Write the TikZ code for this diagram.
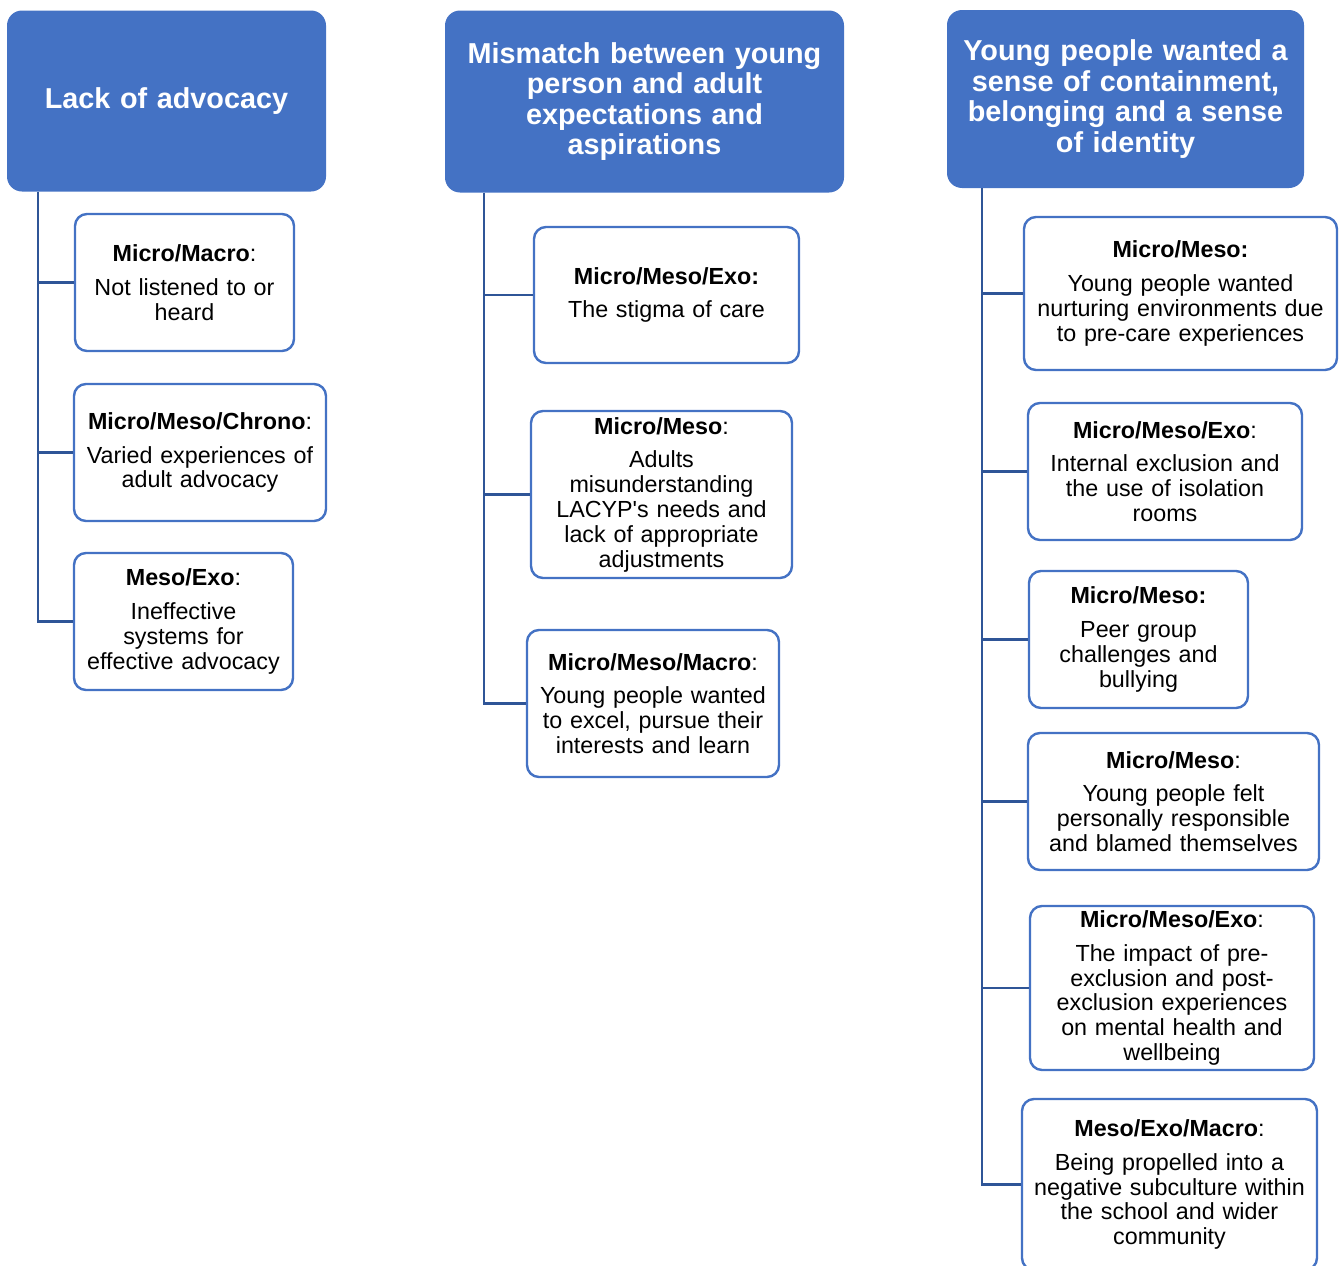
\documentclass[tikz,border=0pt]{standalone}
\usepackage{fontspec}
\setmainfont{Liberation Sans}
\definecolor{hdrblue}{HTML}{4472C4}
\definecolor{connblue}{HTML}{2F5597}
\begin{document}
\begin{tikzpicture}[x=1pt,y=-1pt,
  hdr/.style={fill=hdrblue, draw=none, rounded corners=15pt, inner sep=0pt,
    text=white, align=center, font=\fontsize{28.8}{30.5}\selectfont\bfseries},
  sub/.style={fill=white, draw=hdrblue, line width=2.4pt, rounded corners=12pt, inner sep=0pt,
    text=black, align=center, font=\fontsize{23.3}{24.8}\selectfont},
  conn/.style={draw=connblue, line width=2.5pt}]
\useasboundingbox (0,0) rectangle (1341,1266);

% headers
\node[hdr, minimum width=319pt, minimum height=181pt, text width=305pt] (h1) at (166.5,101) {Lack of advocacy};
\node[hdr, minimum width=399pt, minimum height=182pt, text width=390pt] (h2) at (644.5,101.5) {Mismatch between young\\person and adult\\expectations and\\aspirations};
\node[hdr, minimum width=357pt, minimum height=178pt, text width=350pt] (h3) at (1125.5,99) {Young people wanted a\\sense of containment,\\belonging and a sense\\of identity};

% column 1
\node[sub, minimum width=219pt, minimum height=137pt, text width=210pt] (c1a) at (184.5,282.5) {\textbf{Micro/Macro}:\\[9pt]Not listened to or\\heard};
\node[sub, minimum width=252pt, minimum height=137pt, text width=244pt] (c1b) at (200,452.5) {\textbf{Micro/Meso/Chrono}:\\[9pt]Varied experiences of\\adult advocacy};
\node[sub, minimum width=219pt, minimum height=137pt, text width=210pt] (c1c) at (183.5,621.5) {\textbf{Meso/Exo}:\\[9pt]Ineffective\\systems for\\effective advocacy};

% column 2
\node[sub, minimum width=265pt, minimum height=136pt, text width=255pt] (c2a) at (666.5,295) {\textbf{Micro/Meso/Exo:}\\[9pt]The stigma of care};
\node[sub, minimum width=261pt, minimum height=167pt, text width=252pt] (c2b) at (661.5,494.5) {\textbf{Micro/Meso}:\\[9pt]Adults\\misunderstanding\\LACYP\textquotesingle s needs and\\lack of appropriate\\adjustments};
\node[sub, minimum width=252pt, minimum height=147pt, text width=244pt] (c2c) at (653,703.5) {\textbf{Micro/Meso/Macro}:\\[9pt]Young people wanted\\to excel, pursue their\\interests and learn};

% column 3
\node[sub, minimum width=313pt, minimum height=153pt, text width=305pt] (c3a) at (1180.5,293.5) {\textbf{Micro/Meso:}\\[9pt]Young people wanted\\nurturing environments due\\to pre-care experiences};
\node[sub, minimum width=274pt, minimum height=137pt, text width=265pt] (c3b) at (1165,471.5) {\textbf{Micro/Meso/Exo}:\\[9pt]Internal exclusion and\\the use of isolation\\rooms};
\node[sub, minimum width=219pt, minimum height=137pt, text width=210pt] (c3c) at (1138.5,639.5) {\textbf{Micro/Meso:}\\[9pt]Peer group\\challenges and\\bullying};
\node[sub, minimum width=291pt, minimum height=137pt, text width=283pt] (c3d) at (1173.5,801.5) {\textbf{Micro/Meso}:\\[9pt]Young people felt\\personally responsible\\and blamed themselves};
\node[sub, minimum width=284pt, minimum height=164pt, text width=276pt] (c3e) at (1172,988) {\textbf{Micro/Meso/Exo}:\\[9pt]The impact of pre-\\exclusion and post-\\exclusion experiences\\on mental health and\\wellbeing};
\node[sub, minimum width=295pt, minimum height=171pt, text width=287pt] (c3f) at (1169.5,1184.5) {\textbf{Meso/Exo/Macro}:\\[9pt]Being propelled into a\\negative subculture within\\the school and wider\\community};

% connectors
\coordinate (t1) at ([xshift=31pt]h1.south west);
\coordinate (t2) at ([xshift=39pt]h2.south west);
\coordinate (t3) at ([xshift=35pt]h3.south west);
\draw[conn] (t1) |- (c1c.west);
\draw[conn] (t1 |- c1a.west) -- (c1a.west);
\draw[conn] (t1 |- c1b.west) -- (c1b.west);
\draw[conn] (t2) |- (c2c.west);
\draw[conn] (t2 |- c2a.west) -- (c2a.west);
\draw[conn] (t2 |- c2b.west) -- (c2b.west);
\draw[conn] (t3) |- (c3f.west);
\draw[conn] (t3 |- c3a.west) -- (c3a.west);
\draw[conn] (t3 |- c3b.west) -- (c3b.west);
\draw[conn] (t3 |- c3c.west) -- (c3c.west);
\draw[conn] (t3 |- c3d.west) -- (c3d.west);
\draw[conn] (t3 |- c3e.west) -- (c3e.west);
\end{tikzpicture}
\end{document}
